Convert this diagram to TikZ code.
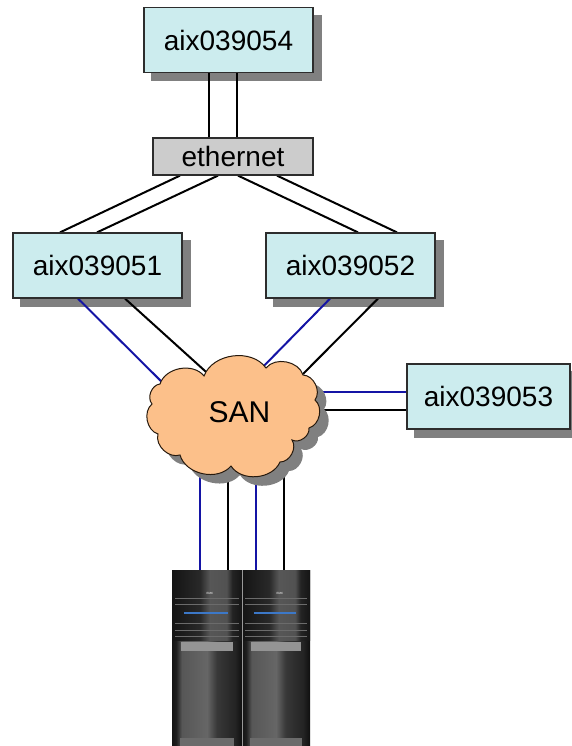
\documentclass[tikz,border=0pt]{standalone}
\usepackage{fontspec}
\setmainfont{Liberation Sans}
\usetikzlibrary{calc}

\definecolor{hostfill}{RGB}{204,236,238}
\definecolor{hostline}{RGB}{45,45,45}
\definecolor{ethfill}{RGB}{204,204,204}
\definecolor{sanfill}{RGB}{252,192,138}
\definecolor{shadowgray}{RGB}{128,128,128}
\definecolor{fcblue}{RGB}{20,20,165}
\definecolor{rackblue}{RGB}{60,120,200}

% rack shadings (middle 25bp..75bp spans the filled path)
\pgfdeclarehorizontalshading{rackbody}{100bp}{color(0bp)=(black!92); color(25bp)=(black!92);
  color(28bp)=(black!88); color(32bp)=(black!66); color(50bp)=(black!60); color(57bp)=(black!78);
  color(70bp)=(black!86); color(75bp)=(black!94); color(100bp)=(black!94)}
\pgfdeclarehorizontalshading{rackhead}{100bp}{color(0bp)=(black!92); color(25bp)=(black!92);
  color(45bp)=(black!84); color(52bp)=(black!66); color(64bp)=(black!68); color(68bp)=(black!86);
  color(75bp)=(black!92); color(100bp)=(black!92)}

\pgfdeclarelayer{bg}
\pgfdeclarelayer{mid}
\pgfsetlayers{bg,mid,main}

% outline of the SAN cloud
\def\sanoutline{(160,384) to[bend left=62] (204,376) to[bend left=62] (266,368)
  to[bend left=62] (303,375) to[bend left=62] (315,400) to[bend left=62] (309,428)
  to[bend left=62] (292,440) to[bend left=62] (280,462) to[bend left=62] (231,466)
  to[bend left=62] (180,455) to[bend left=62] (158,434) to[bend left=62] (152,404)
  to[bend left=62] cycle}

\begin{document}
\begin{tikzpicture}[x=1pt,y=-1pt,
  host/.style={draw=hostline, line width=1.2pt, fill=hostfill, minimum width=169pt,
    minimum height=65pt, inner sep=0pt, font=\fontsize{28}{30}\selectfont},
  ethbox/.style={draw=hostline, line width=1.2pt, fill=ethfill, minimum width=160pt,
    minimum height=37pt, inner sep=0pt, font=\fontsize{28}{30}\selectfont},
  wire/.style={draw=black, line width=2pt},
  fc/.style={draw=fcblue, line width=2pt},
  cloudedge/.style={draw=black!80!brown, line width=1pt, fill=sanfill},
  panel/.style={fill=black!42}
]
\useasboundingbox (0,0) rectangle (572,746);

% hosts and switch
\node[host] (h54) at (228.5,40) {aix039054};
\node[ethbox] (eth) at (233,156.5) {ethernet};
\node[host] (h51) at (97.5,265.5) {aix039051};
\node[host] (h52) at (350.5,265.5) {aix039052};
\node[host, minimum width=163pt] (h53) at (488.5,396.5) {aix039053};

% storage cabinets
\node[minimum width=138pt, minimum height=176pt, inner sep=0pt] (stor) at (241,658) {};
\foreach \xl/\xr in {172/242, 242/310} {
  \shade[shading=rackbody] (\xl,570) rectangle (\xr,746);
  \shade[shading=rackhead] (\xl,570) rectangle (\xr,640);
  \foreach \yy in {598,604,623,630,636}
    \draw[black!58, line width=0.9pt] (\xl+3,\yy) -- (\xr-3,\yy);
  \draw[rackblue, line width=1.2pt] (\xl+12,613) -- (\xr-14,613);
  \fill[panel] (\xl+9,642) rectangle (\xr-9,651);
  \fill[black!58] (\xl+8,738) rectangle (\xr-8,746);
  \node[white, font=\fontsize{3}{3}\selectfont, inner sep=0pt] at (\xl+38,593) {EMC};
}
\draw[black!40, line width=1pt] (242,570) -- (242,746);

% SAN cloud with its shadow
\fill[shadowgray, shift={(9,9)}] \sanoutline;
\draw[cloudedge] \sanoutline;
\node[font=\fontsize{30}{32}\selectfont, inner sep=0pt] (san) at (239.5,412.5) {SAN};

% drop shadows of the host boxes
\begin{pgfonlayer}{bg}
  \foreach \n in {h54,h51,h52,h53}
    \fill[shadowgray] ([shift={(8,8)}]\n.north west) rectangle ([shift={(8,8)}]\n.south east);
\end{pgfonlayer}

% cabling
\begin{pgfonlayer}{mid}
  % ethernet
  \draw[wire] ([xshift=-19.5pt]h54.south) -- ([xshift=-24pt]eth.north);
  \draw[wire] ([xshift=8.5pt]h54.south) -- ([xshift=4pt]eth.north);
  \draw[wire] ([xshift=-53pt]eth.south) -- ([xshift=-37.5pt]h51.north);
  \draw[wire] ([xshift=-15pt]eth.south) -- ([xshift=-0.5pt]h51.north);
  \draw[wire] ([xshift=5pt]eth.south) -- ([xshift=7.5pt]h52.north);
  \draw[wire] ([xshift=44pt]eth.south) -- ([xshift=46.5pt]h52.north);
  % SAN links
  \draw[fc]   ([xshift=-19.5pt]h51.south) -- ($(san.center)+(-59.5,-12.5)$);
  \draw[wire] ([xshift=27.5pt]h51.south) -- ($(san.center)+(-24.5,-32.5)$);
  \draw[fc]   ([xshift=-20.5pt]h52.south) -- ($(san.center)+(15.5,-37.5)$);
  \draw[wire] ([xshift=27.5pt]h52.south) -- ($(san.center)+(50.5,-25.5)$);
  \draw[fc]   ([yshift=4.5pt]h53.west) -- ([yshift=4.5pt]h53.west -| san.center);
  \draw[wire] ([yshift=-13.5pt]h53.west) -- ([yshift=-13.5pt]h53.west -| san.center);
  \draw[fc]   ([xshift=-41pt]stor.north) -- ([xshift=-41pt]stor.north |- san.center);
  \draw[wire] ([xshift=-13pt]stor.north) -- ([xshift=-13pt]stor.north |- san.center);
  \draw[fc]   ([xshift=15pt]stor.north) -- ([xshift=15pt]stor.north |- san.center);
  \draw[wire] ([xshift=43pt]stor.north) -- ([xshift=43pt]stor.north |- san.center);
\end{pgfonlayer}
\end{tikzpicture}
\end{document}
